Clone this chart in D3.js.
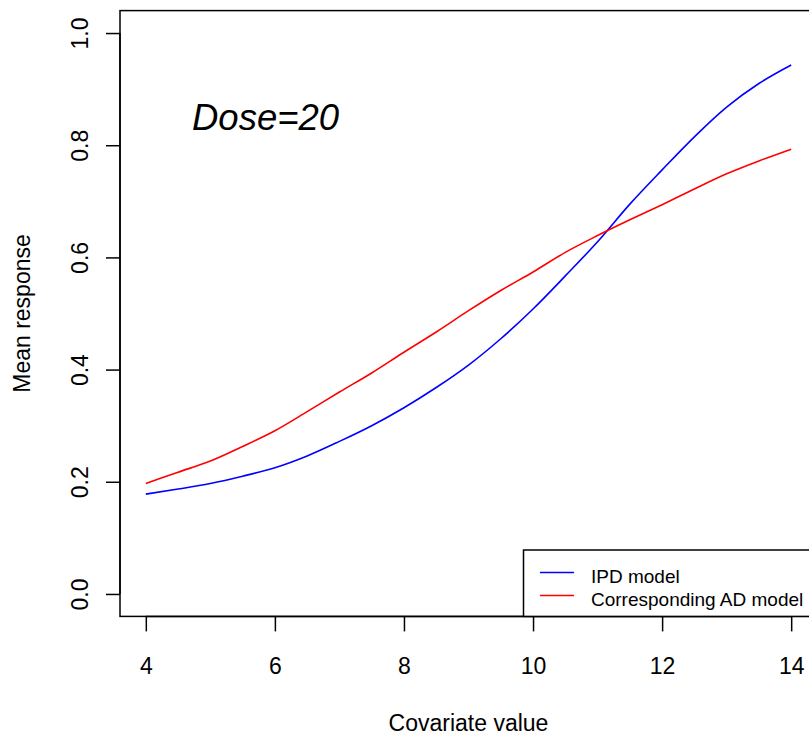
<!DOCTYPE html>
<html>
<head>
<meta charset="utf-8">
<script src="https://cdn.jsdelivr.net/npm/d3@7"></script>
<style>
  html, body { margin: 0; padding: 0; background: #fff; }
  svg { display: block; font-family: "Liberation Sans", Arial, sans-serif; }
</style>
</head>
<body>
<svg id="chart" width="809" height="738"></svg>
<script>
// ---- data ----
const covariate = [4, 4.5, 5, 5.5, 6, 6.5, 7, 7.5, 8, 8.5, 9, 9.5, 10, 10.5, 11, 11.5, 12, 12.5, 13, 13.5, 14];
const ipdModel  = [0.178, 0.187, 0.197, 0.210, 0.225, 0.246, 0.272, 0.300, 0.332, 0.368, 0.408, 0.455, 0.508, 0.567, 0.628, 0.695, 0.756, 0.815, 0.868, 0.910, 0.943];
const adModel   = [0.197, 0.217, 0.237, 0.263, 0.291, 0.325, 0.360, 0.394, 0.431, 0.467, 0.505, 0.541, 0.574, 0.609, 0.639, 0.667, 0.694, 0.722, 0.749, 0.772, 0.793];
const xTicks = [4, 6, 8, 10, 12, 14];
const yTicks = [0.0, 0.2, 0.4, 0.6, 0.8, 1.0];
const seriesNames = ["IPD model", "Corresponding AD model"];
const seriesColors = ["#0000ff", "#ff0000"];
const annotation = "Dose=20";

// ---- layout ----
const svg = d3.select("#chart");
const plot = { left: 120, top: 10.6, right: 817, bottom: 616.4 };
const x = d3.scaleLinear().domain([3.6, 14.4]).range([plot.left, plot.right]);
const y = d3.scaleLinear().domain([-0.04, 1.04]).range([plot.bottom, plot.top]);

// curves
const line = d3.line().x(d => x(d[0])).y(d => y(d[1])).curve(d3.curveMonotoneX);
[ipdModel, adModel].forEach((vals, i) => {
  svg.append("path")
    .datum(covariate.map((c, j) => [c, vals[j]]))
    .attr("d", line)
    .attr("fill", "none")
    .attr("stroke", seriesColors[i])
    .attr("stroke-width", 1.6);
});

// box
svg.append("rect")
  .attr("x", plot.left).attr("y", plot.top)
  .attr("width", plot.right - plot.left).attr("height", plot.bottom - plot.top)
  .attr("fill", "none").attr("stroke", "#000").attr("stroke-width", 1.5);

// x axis
const xAxis = svg.append("g").attr("transform", `translate(0,${plot.bottom})`)
  .call(d3.axisBottom(x).tickValues(xTicks).tickSize(15).tickPadding(0).tickFormat(d3.format("d")));
xAxis.select(".domain").attr("d", `M${x(4)},0H${x(14)}`).attr("stroke-width", 1.5);
xAxis.selectAll(".tick line").attr("stroke-width", 1.5);
xAxis.selectAll(".tick text").attr("y", 58).attr("dy", null)
  .style("font-size", "23px").style("font-family", "Liberation Sans, Arial, sans-serif").attr("fill", "#000");

// y axis
const yAxis = svg.append("g").attr("transform", `translate(${plot.left},0)`)
  .call(d3.axisLeft(y).tickValues(yTicks).tickSize(14).tickFormat(d3.format(".1f")));
yAxis.select(".domain").attr("d", `M0,${y(0)}V${y(1)}`).attr("stroke-width", 1.5);
yAxis.selectAll(".tick line").attr("stroke-width", 1.5);
yAxis.selectAll(".tick text")
  .attr("x", null).attr("dy", null)
  .attr("transform", "translate(-32,0) rotate(-90)")
  .attr("text-anchor", "middle")
  .style("font-size", "23px").style("font-family", "Liberation Sans, Arial, sans-serif").attr("fill", "#000");

// axis titles
svg.append("text")
  .attr("x", (plot.left + plot.right) / 2).attr("y", 731)
  .attr("text-anchor", "middle").style("font-size", "23px").text("Covariate value");
svg.append("text")
  .attr("transform", `translate(30,${(plot.top + plot.bottom) / 2}) rotate(-90)`)
  .attr("text-anchor", "middle").style("font-size", "23px").text("Mean response");

// annotation
svg.append("text")
  .attr("x", 192).attr("y", 129.5)
  .style("font-size", "36.5px").style("font-style", "italic").text(annotation);

// legend
const lg = svg.append("g");
lg.append("rect").attr("x", 523.5).attr("y", 550).attr("width", 320).attr("height", plot.bottom - 550)
  .attr("fill", "#fff").attr("stroke", "#000").attr("stroke-width", 1.5);
seriesNames.forEach((name, i) => {
  const yy = 572.5 + i * 23;
  lg.append("line").attr("x1", 540).attr("x2", 574).attr("y1", yy).attr("y2", yy)
    .attr("stroke", seriesColors[i]).attr("stroke-width", 1.6);
  lg.append("text").attr("x", 591).attr("y", yy + 10.5)
    .style("font-size", "19px").text(name);
});
</script>
</body>
</html>
